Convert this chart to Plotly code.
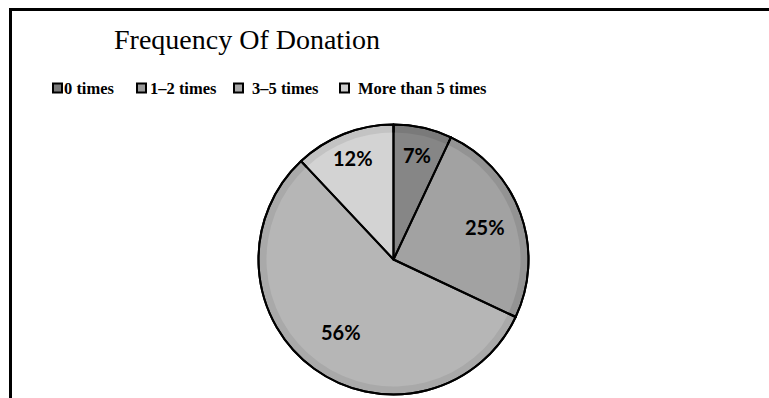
import math
import plotly.graph_objects as go

# Donation frequency shares (percent)
categories = ["0 times", "1\u20132 times", "3\u20135 times", "More than 5 times"]
shares = [7, 25, 56, 12]

# Slice shading: outer bevel band and inner face
band_colors = ["#7a7a7a", "#939393", "#a9a9a9", "#c3c3c3"]
face_colors = ["#868686", "#a2a2a2", "#b6b6b6", "#d3d3d3"]
legend_colors = ["#7a7a7a", "#9a9a9a", "#a9a9a9", "#cdcdcd"]

W, H = 769, 398


def px(x):
    return x / W


def py(y):
    return 1 - y / H


cx, cy, r = 393.5, 259.5, 135
bevel = 8


def domain(radius):
    return dict(x=[px(cx - radius), px(cx + radius)],
                y=[py(cy + radius), py(cy - radius)])


common = dict(labels=categories, values=shares, sort=False,
              direction="clockwise", rotation=0, showlegend=False,
              hoverinfo="skip", textinfo="none")

fig = go.Figure()
# outer ring (bevel band) with black slice outlines
fig.add_trace(go.Pie(**common, domain=domain(r),
                     marker=dict(colors=band_colors,
                                 line=dict(color="black", width=2))))
# inner face of each slice
fig.add_trace(go.Pie(**common, domain=domain(r - bevel),
                     marker=dict(colors=face_colors,
                                 line=dict(color="rgba(0,0,0,0)", width=0))))
# black slice outlines on top of the faces
fig.add_trace(go.Pie(**common, domain=domain(r),
                     marker=dict(colors=["rgba(0,0,0,0)"] * 4,
                                 line=dict(color="black", width=2))))

shapes = [
    dict(type="line", xref="paper", yref="paper", x0=px(9), x1=px(769),
         y0=py(9.5), y1=py(9.5), line=dict(color="black", width=3)),
    dict(type="line", xref="paper", yref="paper", x0=px(10.5), x1=px(10.5),
         y0=py(8), y1=py(398), line=dict(color="black", width=3)),
]
annotations = [
    dict(text="Frequency Of Donation", xref="paper", yref="paper",
         x=px(247), y=py(39), xanchor="center", yanchor="middle",
         showarrow=False,
         font=dict(family="Liberation Serif", size=28, color="black")),
]

# percentage labels, placed along each slice's mid-angle
label_radius = [0.79, 0.72, 0.66, 0.81]
total = sum(shares)
start = 0.0
for v, rf in zip(shares, label_radius):
    mid = (start + v / 2) / total * 2 * math.pi
    start += v
    lx = cx + rf * r * math.sin(mid)
    ly = cy - rf * r * math.cos(mid)
    annotations.append(dict(text=f"<b>{v}%</b>", xref="paper", yref="paper",
                            x=px(lx), y=py(ly), xanchor="center",
                            yanchor="middle", showarrow=False,
                            font=dict(family="Lato", size=20, color="black")))

# legend row: swatch left edges and text left edges
swatch_x = [53, 137, 234, 340]
text_x = [62, 148, 250, 356]
leg_y = 88
for name, col, sx, tx in zip(categories, legend_colors, swatch_x, text_x):
    shapes.append(dict(type="rect", xref="paper", yref="paper",
                       x0=px(sx), x1=px(sx + 9), y0=py(leg_y + 4.5),
                       y1=py(leg_y - 4.5), fillcolor=col,
                       line=dict(color="black", width=2)))
    annotations.append(dict(text=f"<b>{name}</b>", xref="paper", yref="paper",
                            x=px(tx), y=py(leg_y), xanchor="left",
                            yanchor="middle", showarrow=False,
                            font=dict(family="Liberation Serif", size=16.5,
                                      color="black")))

fig.update_layout(width=W, height=H, margin=dict(l=0, r=0, t=0, b=0),
                  paper_bgcolor="white", plot_bgcolor="white",
                  shapes=shapes, annotations=annotations)

fig.write_html("out.html")
